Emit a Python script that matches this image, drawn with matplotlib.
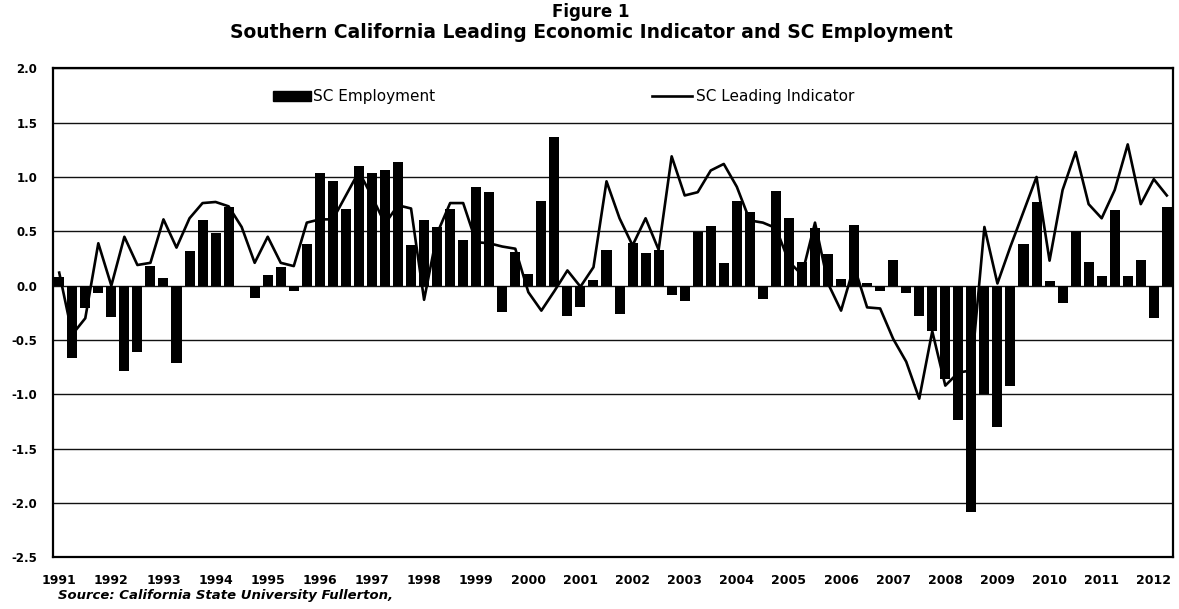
import matplotlib
matplotlib.use("Agg")
import matplotlib.pyplot as plt
from matplotlib.patches import Patch
from matplotlib.lines import Line2D
import numpy as np

plt.rcParams['font.family'] = ['DejaVu Sans']
plt.rcParams['axes.unicode_minus'] = False

# Quarterly data, 1991Q1 .. 2012Q2
years = [str(y) for y in range(1991, 2013)]

sc_employment = [
    0.08, -0.67, -0.21, -0.07,   # 1991
    -0.29, -0.79, -0.61, 0.18,   # 1992
    0.07, -0.71, 0.32, 0.60,     # 1993
    0.48, 0.72, 0.00, -0.11,     # 1994
    0.10, 0.17, -0.05, 0.38,     # 1995
    1.04, 0.96, 0.71, 1.10,      # 1996
    1.04, 1.06, 1.14, 0.37,      # 1997
    0.60, 0.54, 0.71, 0.42,      # 1998
    0.91, 0.86, -0.24, 0.31,     # 1999
    0.11, 0.78, 1.37, -0.28,     # 2000
    -0.20, 0.05, 0.33, -0.26,    # 2001
    0.39, 0.30, 0.33, -0.09,     # 2002
    -0.14, 0.49, 0.55, 0.21,     # 2003
    0.78, 0.68, -0.12, 0.87,     # 2004
    0.62, 0.22, 0.53, 0.29,      # 2005
    0.06, 0.56, 0.02, -0.05,     # 2006
    0.24, -0.07, -0.28, -0.42,   # 2007
    -0.86, -1.24, -2.08, -1.00,  # 2008
    -1.30, -0.92, 0.38, 0.77,    # 2009
    0.04, -0.16, 0.50, 0.22,     # 2010
    0.09, 0.70, 0.09, 0.24,      # 2011
    -0.30, 0.72,                 # 2012
]

sc_leading = [
    0.12, -0.45, -0.30, 0.39,
    0.00, 0.45, 0.19, 0.21,
    0.61, 0.35, 0.62, 0.76,
    0.77, 0.73, 0.54, 0.21,
    0.45, 0.21, 0.18, 0.58,
    0.61, 0.61, 0.83, 1.05,
    0.82, 0.57, 0.74, 0.71,
    -0.13, 0.48, 0.76, 0.76,
    0.40, 0.39, 0.36, 0.34,
    -0.06, -0.23, -0.05, 0.14,
    -0.01, 0.17, 0.96, 0.62,
    0.37, 0.62, 0.33, 1.19,
    0.83, 0.86, 1.06, 1.12,
    0.91, 0.60, 0.58, 0.53,
    0.22, 0.10, 0.58, 0.02,
    -0.23, 0.18, -0.20, -0.21,
    -0.49, -0.70, -1.04, -0.42,
    -0.92, -0.80, -0.78, 0.54,
    0.02, 0.36, 0.68, 1.00,
    0.23, 0.88, 1.23, 0.75,
    0.62, 0.88, 1.30, 0.75,
    0.98, 0.83,
]

x = np.arange(len(sc_employment))

fig = plt.figure(figsize=(11.79, 6.09), dpi=100)
ax = fig.add_axes([0.0447, 0.0849, 0.9505, 0.8029])

ax.bar(x, sc_employment, width=0.77, color='black', zorder=2)
ax.plot(x, sc_leading, color='black', lw=1.9, zorder=3)

ax.set_xlim(-0.5, len(x) - 0.5)
ax.set_ylim(-2.5, 2.0)
yt = np.arange(-2.5, 2.01, 0.5)
ax.set_yticks(yt)
ax.set_yticklabels([f"{v:.1f}" for v in yt], fontsize=8.5, fontweight='bold')
ax.set_xticks(np.arange(0, len(x), 4))
ax.set_xticklabels(years, fontsize=9, fontweight='bold')
ax.tick_params(axis='both', length=0)
ax.tick_params(axis='x', pad=12)
ax.tick_params(axis='y', pad=11)
ax.yaxis.grid(True, color='#111111', lw=1.0, zorder=1)
ax.set_axisbelow(True)
for s in ax.spines.values():
    s.set_linewidth(1.6)
    s.set_color('black')

# Legend entries
leg1 = fig.legend([Patch(facecolor='black', edgecolor='black')], ['SC Employment'],
                  loc='center left', bbox_to_anchor=(273 / 1179, 1 - 97 / 609),
                  frameon=False, fontsize=11, handlelength=2.5, handleheight=0.6,
                  handletextpad=0.15, borderpad=0, borderaxespad=0)
leg2 = fig.legend([Line2D([0], [0], color='black', lw=1.9)], ['SC Leading Indicator'],
                  loc='center left', bbox_to_anchor=(652 / 1179, 1 - 97 / 609),
                  frameon=False, fontsize=11, handlelength=2.6,
                  handletextpad=0.25, borderpad=0, borderaxespad=0)

fig.text(591 / 1179, 1 - 12 / 609, 'Figure 1', ha='center', va='center',
         fontsize=12, fontweight='bold')
fig.text(591 / 1179, 1 - 32 / 609,
         'Southern California Leading Economic Indicator and SC Employment',
         ha='center', va='center', fontsize=13.5, fontweight='bold')
fig.text(58 / 1179, 1 - 596 / 609, 'Source: California State University Fullerton,',
         ha='left', va='center', fontsize=9.5, fontweight='bold', fontstyle='italic')

fig.savefig('out.png', dpi=100)
